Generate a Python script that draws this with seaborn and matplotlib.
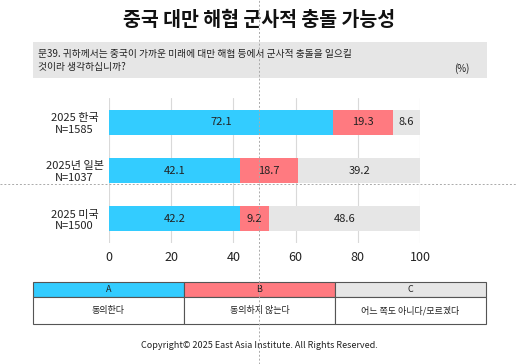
import matplotlib
matplotlib.use("Agg")
import matplotlib.pyplot as plt
from matplotlib.patches import Rectangle
from matplotlib.lines import Line2D
import seaborn as sns
import pandas as pd

# Datos del gráfico
grupos = ["2025 한국\nN=1585", "2025년 일본\nN=1037", "2025 미국\nN=1500"]
acuerdo = [72.1, 42.1, 42.2]
desacuerdo = [19.3, 18.7, 9.2]
no_sabe = [8.6, 39.2, 48.6]
categorias = ["A", "B", "C"]
etiquetas = ["동의한다", "동의하지 않는다", "어느 쪽도 아니다/모르겠다"]
colores = ["#33ccff", "#ff7a80", "#e6e6e6"]

sns.set_theme(style="white")
plt.rcParams["font.family"] = ["Noto Sans CJK KR", "DejaVu Sans"]

W, H = 517, 364
fig = plt.figure(figsize=(W / 100, H / 100), dpi=100)

def fx(px):
    return px / W

def fy(py):
    return 1 - py / H

# Título y caja de pregunta
fig.text(fx(259), fy(20), "중국 대만 해협 군사적 충돌 가능성", ha="center", va="center",
         fontsize=14, fontweight="bold", color="#111111")
fig.patches.append(Rectangle((fx(33), fy(78)), fx(487) - fx(33), fy(42) - fy(78),
                             transform=fig.transFigure, facecolor="#e6e6e6", edgecolor="none"))
fig.text(fx(38), fy(54), "문39. 귀하께서는 중국이 가까운 미래에 대만 해협 등에서 군사적 충돌을 일으킬",
         ha="left", va="center", fontsize=7, color="#222222")
fig.text(fx(38), fy(67), "것이라 생각하십니까?", ha="left", va="center", fontsize=7, color="#222222")
fig.text(fx(462), fy(69), "(%)", ha="center", va="center", fontsize=7, color="#222222")

# Gráfico de barras apiladas
ax = fig.add_axes([fx(109), fy(243), fx(420) - fx(109), fy(98) - fy(243)])
df = pd.DataFrame({"grupo": grupos, "A": acuerdo, "B": desacuerdo, "C": no_sabe})
df["cum_A"] = df["A"]
df["cum_B"] = df["A"] + df["B"]
df["cum_C"] = df["A"] + df["B"] + df["C"]

for col, color in zip(["cum_C", "cum_B", "cum_A"], colores[::-1]):
    sns.barplot(data=df, x=col, y="grupo", color=color, orient="h", width=0.52,
                saturation=1, ax=ax, zorder=3, edgecolor="none")

for i, row in df.iterrows():
    inicio = 0
    for c in categorias:
        v = row[c]
        ax.text(inicio + v / 2, i, f"{v:.1f}", ha="center", va="center", fontsize=8,
                color="#222222", zorder=5)
        inicio += v

ax.set_xlim(0, 100)
ax.set_ylim(2.5, -0.5)
ax.set_xticks(range(0, 101, 20))
ax.grid(axis="x", color="#d9d9d9", linewidth=0.8, zorder=0)
ax.set_xlabel("")
ax.set_ylabel("")
for s in ax.spines.values():
    s.set_visible(False)
ax.tick_params(axis="x", labelsize=9, colors="#222222", length=0, pad=6)
ax.tick_params(axis="y", labelsize=8, colors="#222222", length=0, pad=8)
for lbl in ax.get_yticklabels():
    lbl.set_horizontalalignment("center")
    lbl.set_x(-0.075)

# Tabla de leyenda
cols_x = [33, 184, 335, 486]
for j in range(3):
    x0, x1 = fx(cols_x[j]), fx(cols_x[j + 1])
    fig.patches.append(Rectangle((x0, fy(297)), x1 - x0, fy(282) - fy(297), transform=fig.transFigure,
                                 facecolor=colores[j], edgecolor="#555555", linewidth=0.8))
    fig.patches.append(Rectangle((x0, fy(324)), x1 - x0, fy(297) - fy(324), transform=fig.transFigure,
                                 facecolor="white", edgecolor="#555555", linewidth=0.8))
    fig.text((x0 + x1) / 2, fy(289.5), categorias[j], ha="center", va="center", fontsize=6.5,
             color="#222222")
    fig.text((x0 + x1) / 2, fy(310.5), etiquetas[j], ha="center", va="center", fontsize=6.5,
             color="#222222")

fig.text(fx(259), fy(346), "Copyright© 2025 East Asia Institute. All Rights Reserved.",
         ha="center", va="center", fontsize=6.5, color="#222222")

# Líneas guía punteadas
fig.lines.append(Line2D([fx(259), fx(259)], [0, 1], transform=fig.transFigure,
                        color="#aaaaaa", linewidth=0.7, linestyle=(0, (2, 2)), zorder=10))
fig.lines.append(Line2D([0, 1], [fy(184), fy(184)], transform=fig.transFigure,
                        color="#aaaaaa", linewidth=0.7, linestyle=(0, (2, 2)), zorder=10))

fig.savefig("out.png", dpi=100, facecolor="white")
